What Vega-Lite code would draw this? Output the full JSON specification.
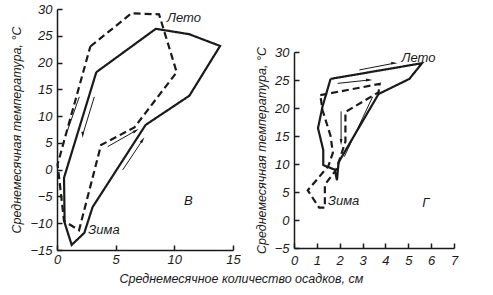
{
 "$schema": "https://vega.github.io/schema/vega-lite/v6.json",
 "background": "white",
 "padding": {"left": 10, "top": 3, "right": 5, "bottom": 5},
 "bounds": "flush",
 "spacing": 61,
 "config": {
  "view": {"stroke": null},
  "font": "Liberation Sans",
  "axis": {
   "domainColor": "#1a1a1a", "domainWidth": 1.5,
   "tickColor": "#1a1a1a", "tickWidth": 1.5, "tickSize": -5,
   "labelFont": "Liberation Sans", "labelFontStyle": "italic", "labelFontSize": 13, "labelColor": "#1a1a1a",
   "titleFont": "Liberation Sans", "titleFontStyle": "italic", "titleFontWeight": "normal", "titleFontSize": 12.5, "titleColor": "#1a1a1a",
   "grid": false, "labelPadding": 10, "labelFlush": false, "labelOverlap": false
  }
 },
 "datasets": {
  "L": [
   {"s": "solid", "i": 0, "x": 3.35, "t": 18.2},
   {"s": "solid", "i": 1, "x": 8.42, "t": 26.3},
   {"s": "solid", "i": 2, "x": 11.26, "t": 25.3},
   {"s": "solid", "i": 3, "x": 13.9, "t": 23.1},
   {"s": "solid", "i": 4, "x": 11.28, "t": 13.8},
   {"s": "solid", "i": 5, "x": 7.55, "t": 8.35},
   {"s": "solid", "i": 6, "x": 3.03, "t": -7.0},
   {"s": "solid", "i": 7, "x": 2.33, "t": -11.8},
   {"s": "solid", "i": 8, "x": 1.25, "t": -14.05},
   {"s": "solid", "i": 9, "x": 0.65, "t": -9.9},
   {"s": "solid", "i": 10, "x": 0.6, "t": -1.5},
   {"s": "solid", "i": 11, "x": 3.35, "t": 18.2},
   {"s": "dashed", "i": 0, "x": 2.84, "t": 23.0},
   {"s": "dashed", "i": 1, "x": 6.35, "t": 29.2},
   {"s": "dashed", "i": 2, "x": 8.7, "t": 29.0},
   {"s": "dashed", "i": 3, "x": 10.2, "t": 18.2},
   {"s": "dashed", "i": 4, "x": 6.6, "t": 7.9},
   {"s": "dashed", "i": 5, "x": 3.75, "t": 4.6},
   {"s": "dashed", "i": 6, "x": 1.88, "t": -11.3},
   {"s": "dashed", "i": 7, "x": 0.6, "t": -9.6},
   {"s": "dashed", "i": 8, "x": 0.05, "t": 1.0},
   {"s": "dashed", "i": 9, "x": 2.84, "t": 23.0}
  ],
  "LA": [
   {"a": "a1", "i": 0, "x": 3.18, "t": 13.6}, {"a": "a1", "i": 1, "x": 2.19, "t": 6.5},
   {"a": "a2", "i": 0, "x": 1.9, "t": 13.6}, {"a": "a2", "i": 1, "x": 0.91, "t": 7.4},
   {"a": "a3", "i": 0, "x": 4.32, "t": 4.3}, {"a": "a3", "i": 1, "x": 6.73, "t": 7.3},
   {"a": "a4", "i": 0, "x": 5.6, "t": -0.05}, {"a": "a4", "i": 1, "x": 7.3, "t": 5.55}
  ],
  "LH": [
   {"d": "down", "x": 2.19, "t": 6.5},
   {"d": "ne60", "x": 6.73, "t": 7.3},
   {"d": "ne34", "x": 7.3, "t": 5.55}
  ],
  "LT": [
   {"txt": "Лето", "x": 10.83, "t": 28.3},
   {"txt": "Зима", "x": 4.0, "t": -11.25},
   {"txt": "В", "x": 11.2, "t": -5.8}
  ],
  "R": [
   {"s": "solid", "i": 0, "x": 1.6, "t": 25.2},
   {"s": "solid", "i": 1, "x": 5.6, "t": 28.0},
   {"s": "solid", "i": 2, "x": 5.05, "t": 25.2},
   {"s": "solid", "i": 3, "x": 3.7, "t": 22.5},
   {"s": "solid", "i": 4, "x": 1.95, "t": 10.3},
   {"s": "solid", "i": 5, "x": 1.88, "t": 7.1},
   {"s": "solid", "i": 6, "x": 1.78, "t": 9.0},
   {"s": "solid", "i": 7, "x": 1.28, "t": 9.8},
   {"s": "solid", "i": 8, "x": 1.28, "t": 12.5},
   {"s": "solid", "i": 9, "x": 1.05, "t": 16.4},
   {"s": "solid", "i": 10, "x": 1.25, "t": 20.3},
   {"s": "solid", "i": 11, "x": 1.6, "t": 25.2},
   {"s": "dashed", "i": 0, "x": 1.15, "t": 22.3},
   {"s": "dashed", "i": 1, "x": 3.75, "t": 24.3},
   {"s": "dashed", "i": 2, "x": 3.7, "t": 22.8},
   {"s": "dashed", "i": 3, "x": 2.25, "t": 19.3},
   {"s": "dashed", "i": 4, "x": 2.25, "t": 14.0},
   {"s": "dashed", "i": 5, "x": 1.85, "t": 9.0},
   {"s": "dashed", "i": 6, "x": 1.35, "t": 6.3},
   {"s": "dashed", "i": 7, "x": 1.35, "t": 2.2},
   {"s": "dashed", "i": 8, "x": 1.1, "t": 2.2},
   {"s": "dashed", "i": 9, "x": 0.6, "t": 5.3},
   {"s": "dashed", "i": 10, "x": 1.5, "t": 9.6},
   {"s": "dashed", "i": 11, "x": 1.7, "t": 12.0},
   {"s": "dashed", "i": 12, "x": 1.6, "t": 15.0},
   {"s": "dashed", "i": 13, "x": 1.25, "t": 19.6},
   {"s": "dashed", "i": 14, "x": 1.15, "t": 22.3}
  ],
  "RA": [
   {"a": "b1", "i": 0, "x": 2.86, "t": 26.8}, {"a": "b1", "i": 1, "x": 4.39, "t": 28.0},
   {"a": "b2", "i": 0, "x": 1.91, "t": 24.4}, {"a": "b2", "i": 1, "x": 3.29, "t": 25.0},
   {"a": "b3", "i": 0, "x": 2.06, "t": 19.4}, {"a": "b3", "i": 1, "x": 2.06, "t": 13.9},
   {"a": "b4", "i": 0, "x": 2.2, "t": 11.3}, {"a": "b4", "i": 1, "x": 3.44, "t": 22.0}
  ],
  "RH": [
   {"d": "right", "x": 4.39, "t": 28.0},
   {"d": "right", "x": 3.29, "t": 25.0},
   {"d": "down", "x": 2.06, "t": 13.9}
  ],
  "RT": [
   {"txt": "Лето", "x": 5.45, "t": 29.0},
   {"txt": "Зима", "x": 2.17, "t": 3.4},
   {"txt": "Г", "x": 5.77, "t": 3.0}
  ]
 },
 "hconcat": [
  {
   "width": 176, "height": 241,
   "encoding": {
    "x": {"field": "x", "type": "quantitative", "scale": {"domain": [0, 15], "nice": false, "zero": false},
     "axis": {"values": [0, 5, 10, 15], "title": "Среднемесячное количество осадков, см", "titleAnchor": "start", "titleAlign": "left", "titleX": 62, "titleY": 32, "titleBaseline": "alphabetic", "labelPadding": 8}},
    "y": {"field": "t", "type": "quantitative", "scale": {"domain": [-15, 30], "nice": false, "zero": false},
     "axis": {"values": [-15, -10, -5, 0, 5, 10, 15, 20, 25, 30], "title": "Среднемесячная температура, °С", "titlePadding": 6}}
   },
   "layer": [
    {"data": {"name": "L"}, "mark": {"type": "line", "color": "#1a1a1a", "strokeWidth": 2.2, "strokeJoin": "miter"},
     "encoding": {"order": {"field": "i", "type": "quantitative"}, "detail": {"field": "s"},
      "strokeDash": {"field": "s", "type": "nominal", "scale": {"domain": ["solid", "dashed"], "range": [[1, 0], [7, 4]]}, "legend": null}}},
    {"data": {"name": "LA"}, "mark": {"type": "line", "color": "#1a1a1a", "strokeWidth": 1},
     "encoding": {"order": {"field": "i", "type": "quantitative"}, "detail": {"field": "a"}}},
    {"data": {"name": "LH"}, "mark": {"type": "point", "filled": true, "opacity": 1, "color": "#1a1a1a", "size": 40, "strokeWidth": 0},
     "encoding": {"shape": {"field": "d", "type": "nominal", "legend": null, "scale": {"domain": ["down", "right", "ne60", "ne34"], "range": ["M-0.45,-1L0,1L0.45,-1Z", "M-1,-0.45L1,0L-1,0.45Z", "M0.866,-0.5L-0.641,0.89L-1.091,0.11Z", "M0.555,-0.832L-0.181,1.082L-0.929,0.582Z"]}}}},
    {"data": {"name": "LT"}, "mark": {"type": "text", "font": "Liberation Sans", "fontStyle": "italic", "fontSize": 13, "color": "#1a1a1a"},
     "encoding": {"text": {"field": "txt"}}}
   ]
  },
  {
   "bounds": "flush",
   "spacing": 0,
   "vconcat": [
    {"width": 160, "height": 43, "data": {"values": []}, "mark": "point"},
    {
     "width": 160, "height": 196,
     "encoding": {
      "x": {"field": "x", "type": "quantitative", "scale": {"domain": [0, 7], "nice": false, "zero": false},
       "axis": {"values": [0, 1, 2, 3, 4, 5, 6, 7], "title": null, "labelPadding": 11}},
      "y": {"field": "t", "type": "quantitative", "scale": {"domain": [-5, 30], "nice": false, "zero": false},
       "axis": {"values": [-5, 0, 5, 10, 15, 20, 25, 30], "title": "Среднемесячная температура, °С", "titlePadding": 6}}
     },
     "layer": [
      {"data": {"name": "R"}, "mark": {"type": "line", "color": "#1a1a1a", "strokeWidth": 2.2, "strokeJoin": "miter"},
       "encoding": {"order": {"field": "i", "type": "quantitative"}, "detail": {"field": "s"},
        "strokeDash": {"field": "s", "type": "nominal", "scale": {"domain": ["solid", "dashed"], "range": [[1, 0], [7, 4]]}, "legend": null}}},
      {"data": {"name": "RA"}, "mark": {"type": "line", "color": "#1a1a1a", "strokeWidth": 1},
       "encoding": {"order": {"field": "i", "type": "quantitative"}, "detail": {"field": "a"}}},
      {"data": {"name": "RH"}, "mark": {"type": "point", "filled": true, "opacity": 1, "color": "#1a1a1a", "size": 40, "strokeWidth": 0},
       "encoding": {"shape": {"field": "d", "type": "nominal", "legend": null, "scale": {"domain": ["down", "right", "ne60", "ne34"], "range": ["M-0.45,-1L0,1L0.45,-1Z", "M-1,-0.45L1,0L-1,0.45Z", "M0.866,-0.5L-0.641,0.89L-1.091,0.11Z", "M0.555,-0.832L-0.181,1.082L-0.929,0.582Z"]}}}},
      {"data": {"name": "RT"}, "mark": {"type": "text", "font": "Liberation Sans", "fontStyle": "italic", "fontSize": 13, "color": "#1a1a1a"},
       "encoding": {"text": {"field": "txt"}}}
     ]
    }
   ]
  }
 ]
}
